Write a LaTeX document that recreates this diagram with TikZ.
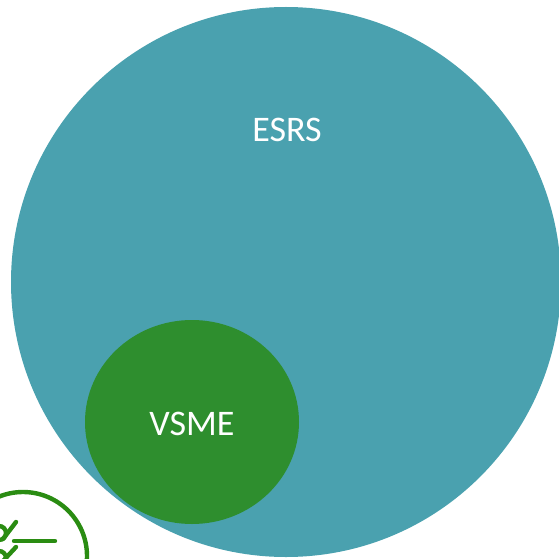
\documentclass[tikz,border=0pt]{standalone}
\usepackage{fontspec}
\usetikzlibrary{shapes.geometric}
\setmainfont{Carlito}
\definecolor{esrsteal}{HTML}{4AA1AF}
\definecolor{vsmegreen}{HTML}{2E8E2E}
\definecolor{icongreen}{HTML}{2A8C12}
\tikzset{
  biglabel/.style={text=white,inner sep=0pt,font=\fontsize{36}{36}\selectfont},
  iconline/.style={draw=icongreen,line width=4.4pt,line cap=round}
}
\begin{document}
\begin{tikzpicture}[x=1pt,y=-1pt]
\useasboundingbox (0,0) rectangle (559,559);
\begin{scope}
\clip (0,0) rectangle (559,559);
\node[circle,fill=esrsteal,minimum size=550pt,inner sep=0pt] (esrs) at (286,282) {};
\node[ellipse,fill=vsmegreen,minimum width=214pt,minimum height=204pt,inner sep=0pt] (vsme) at (192,422) {};
\draw[iconline] (23,556) circle (64);
\draw[iconline] (14,541) -- (55,541);
\draw[iconline] (-1,533) circle (7);
\draw[iconline] (-1,558) circle (7);
\draw[iconline] (16,522) -- (3,539);
\draw[iconline] (16,547) -- (3,561);
\end{scope}
\node[biglabel] (esrslabel) at (287,130) {ESRS};
\node[biglabel] (vsmelabel) at (192,424) {VSME};
\end{tikzpicture}
\end{document}
